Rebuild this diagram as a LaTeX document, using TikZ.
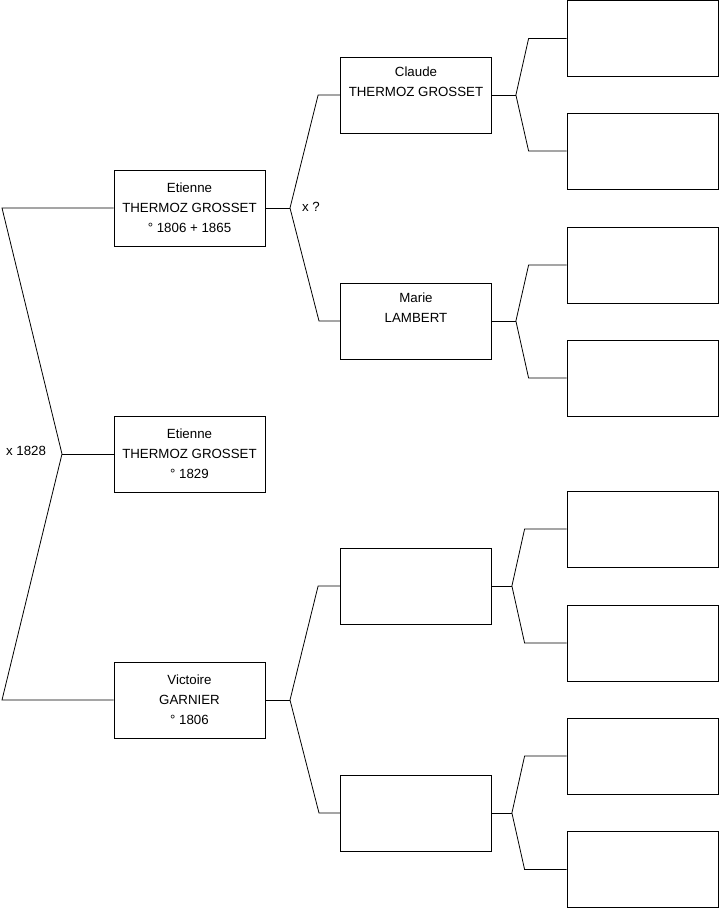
\documentclass[tikz,border=0pt]{standalone}
\usepackage{fontspec}
\setmainfont{Liberation Sans}
\usetikzlibrary{calc}

\begin{document}
\begin{tikzpicture}[x=1pt,y=-1pt,
  person/.style={draw,rectangle,minimum width=151pt,minimum height=76pt,inner sep=0pt,align=center,line width=0.8pt},
  link/.style={line width=0.8pt},
  font=\fontsize{13.3}{20}\selectfont]
  \useasboundingbox (0,0) rectangle (719,908);
  % generace 1
  \node[person] (f) at (189.5,208) {Etienne\\THERMOZ GROSSET\\° 1806 + 1865};
  \node[person] (s) at (189.5,454) {Etienne\\THERMOZ GROSSET\\° 1829};
  \node[person] (m) at (189.5,700) {Victoire\\GARNIER\\° 1806};
  % generace 2
  \node[person] (ff) at (416,95) {Claude\\THERMOZ GROSSET\\\strut};
  \node[person] (fm) at (416,321) {Marie\\LAMBERT\\\strut};
  \node[person] (mf) at (416,586) {};
  \node[person] (mm) at (416,813) {};
  % generace 3 (prazdne)
  \foreach \n/\y in {fff/38.5,ffm/151,fmf/265,fmm/378,mff/529,mfm/643,mmf/756,mmm/869.5}
    {\node[person] (\n) at (642.5,\y) {};}
  % svatby
  \node (x0) at (26,451) {x 1828};
  \node (x1) at (311,207) {x ?};
  % rodice -> dite
  \coordinate (v0) at (62,454);
  \coordinate (l0) at (2,208);
  \coordinate (l1) at (2,700);
  \draw[link] (f.west) -- (l0) -- (v0) -- (l1) -- (m.west);
  \draw[link] (v0) -- (s.west);
  % otec
  \coordinate (vf) at (290,208);
  \draw[link] (f.east) -- (vf);
  \draw[link] (ff.west) -- ++(-22,0) -- (vf) -- ++(29,113) -- (fm.west);
  % matka
  \coordinate (vm) at (290,700);
  \draw[link] (m.east) -- (vm);
  \draw[link] (mf.west) -- ++(-22,0) -- (vm) -- ++(29,113) -- (mm.west);
  % dalsi generace
  \foreach \p/\a/\b/\dx/\bx in {ff/fff/ffm/24/38,fm/fmf/fmm/24/38,mf/mff/mfm/20/42,mm/mmf/mmm/20/42}{
    \coordinate (v\p) at ($(\p.east)+(\dx,0)$);
    \draw[link] (\p.east) -- (v\p);
    \draw[link] (\a.west) -- ++(-\bx,0) -- (v\p) -- ($(\b.west)+(-\bx,0)$) -- (\b.west);
  }
\end{tikzpicture}
\end{document}
